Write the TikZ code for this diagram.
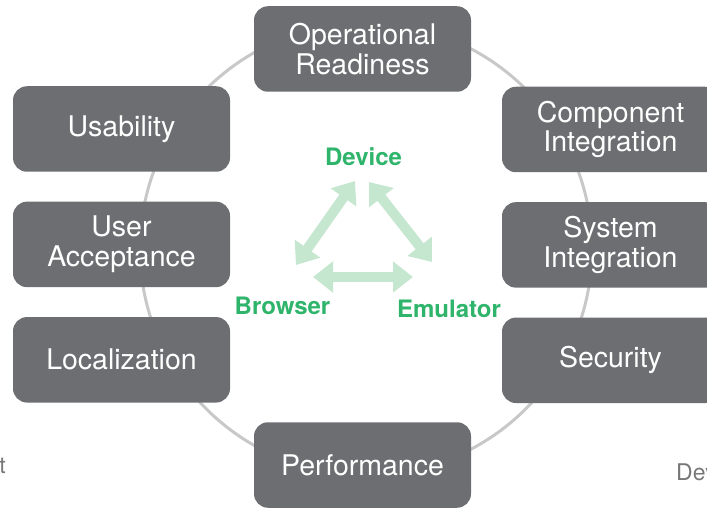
\documentclass[tikz,border=0pt]{standalone}
\usepackage{fontspec}
\setmainfont{TeX Gyre Heros}
\usetikzlibrary{arrows.meta,positioning}

\definecolor{boxgray}{RGB}{109,110,113}
\definecolor{ringgray}{RGB}{200,200,200}
\definecolor{envgreen}{RGB}{46,180,107}
\definecolor{arrowgreen}{RGB}{197,230,207}
\definecolor{footgray}{RGB}{120,120,120}

\begin{document}
\begin{tikzpicture}[x=1pt,y=-1pt,node distance=29.5pt,
        box/.style={fill=boxgray,text=white,rounded corners=14pt,
                    minimum width=217pt,minimum height=85.5pt,align=center,
                    font=\fontsize{28.5}{29.5}\selectfont},
        env/.style={text=envgreen,anchor=base,inner sep=0pt,
                    font=\fontsize{24}{26}\selectfont\bfseries},
        dub/.style={{Triangle[width=30pt,length=20pt]}-{Triangle[width=30pt,length=20pt]},
                    line width=10pt,draw=arrowgreen},
        foot/.style={text=footgray,inner sep=0pt,font=\fontsize{23}{25}\selectfont}]

        \useasboundingbox (0,0) rectangle (707,508);
        \clip (0,0) rectangle (707,508);

        % ring behind the boxes
        \draw[ringgray,line width=3pt] (366,249) circle [radius=226];

        \node[box] (ops) at (362.5,49) {Operational\\Readiness};
        \node[box] (perf) at (362.5,465) {Performance};

        \node[box] (usa) at (121.5,129) {Usability};
        \node[box] (uat) [below=of usa] {User\\Acceptance};
        \node[box] (loc) [below=of uat] {Localization};

        \node[box] (comp) at (610.5,129.5) {Component\\Integration};
        \node[box] (sys) [below=of comp] {System\\Integration};
        \node[box] (sec) [below=of sys] {Security};

        % environments in the middle
        \node[env] (dev) at (363.5,165) {Device};
        \node[env] (brw) at (282.5,314) {Browser};
        \node[env] (emu) at (449,317) {Emulator};

        \coordinate (devl) at (355,181);
        \coordinate (devr) at (369,182);
        \coordinate (brwt) at (296,265);
        \coordinate (brwr) at (313,277);
        \coordinate (emut) at (432,262);
        \coordinate (emul) at (413,277);

        \draw[dub] (brwt) -- (devl);
        \draw[dub] (devr) -- (emut);
        \draw[dub] (brwr) -- (emul);

        \node[foot,anchor=base east] (cutl) at (6,473) {t};
        \node[foot,anchor=base west] (cutr) at (676,480) {Dev};
\end{tikzpicture}
\end{document}
